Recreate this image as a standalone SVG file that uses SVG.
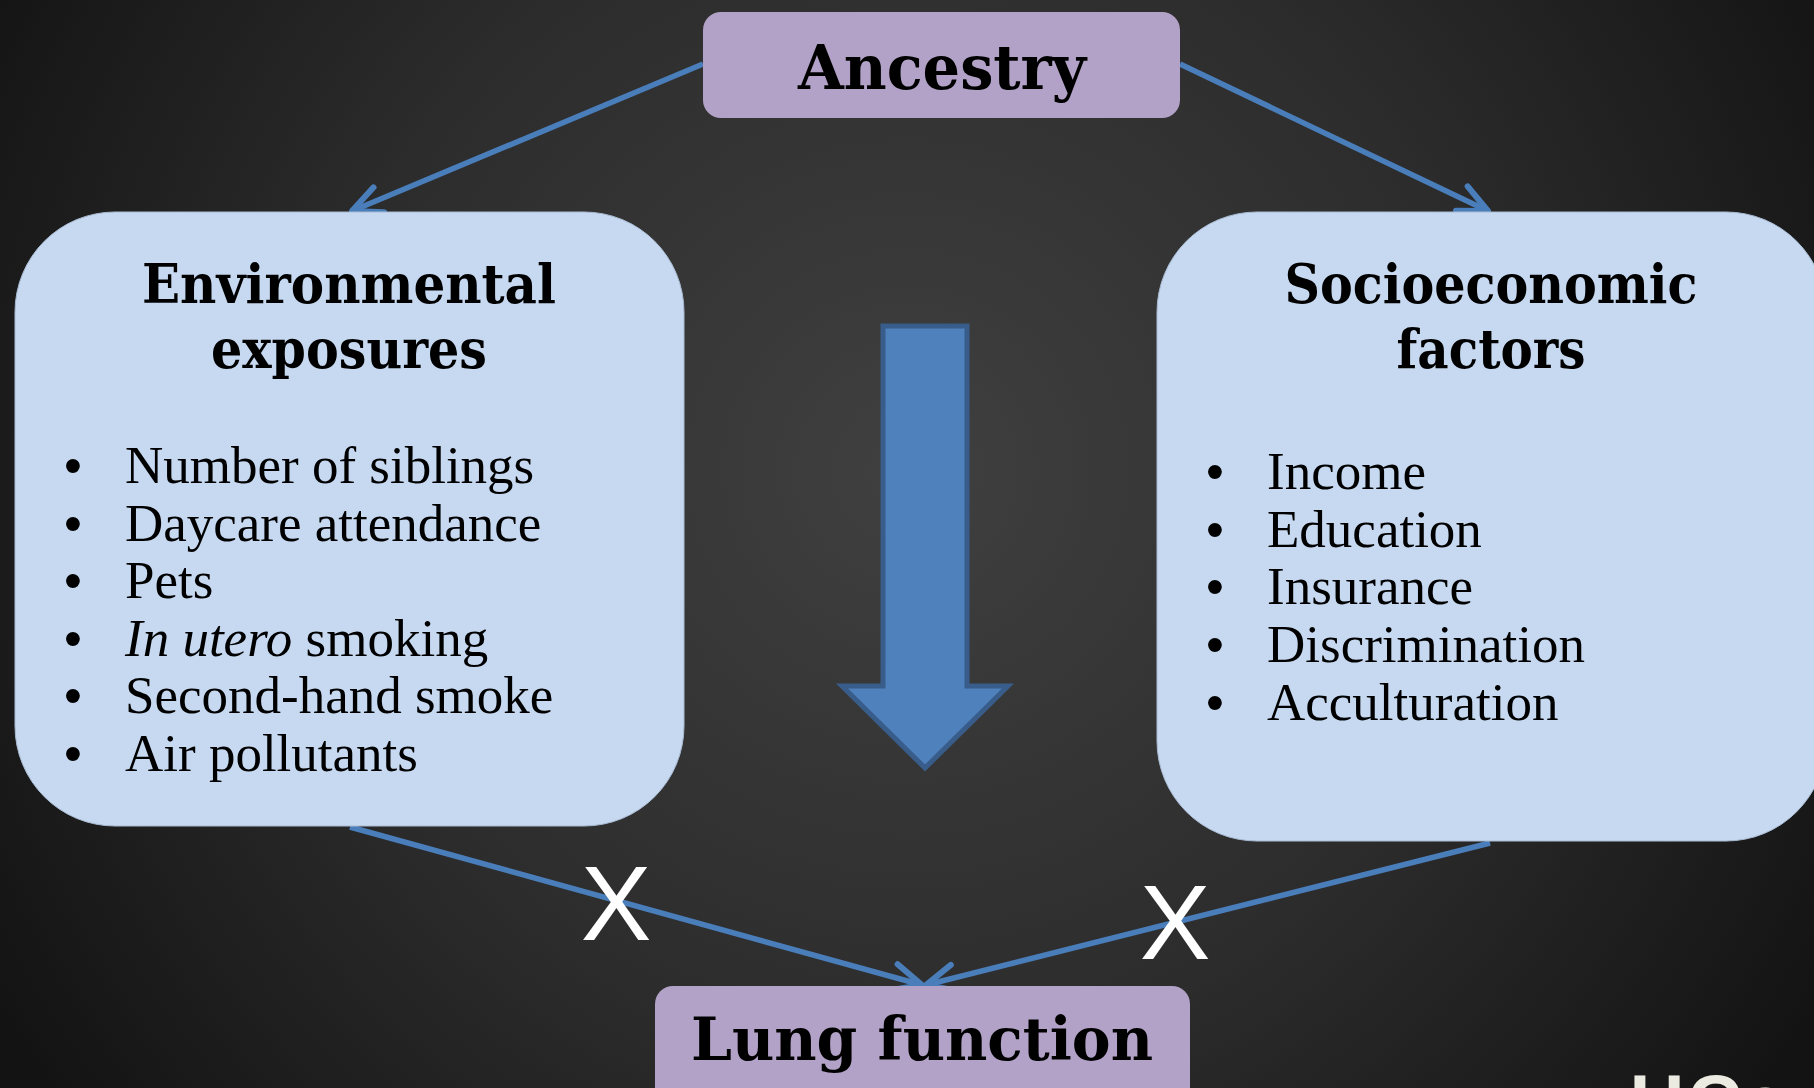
<svg xmlns="http://www.w3.org/2000/svg" width="1814" height="1088" viewBox="0 0 1814 1088">
<defs>
<radialGradient id="bg" gradientUnits="userSpaceOnUse" cx="907" cy="470" r="1060">
<stop offset="0" stop-color="#404040"/>
<stop offset="0.55" stop-color="#2c2c2c"/>
<stop offset="1" stop-color="#131313"/>
</radialGradient>
<marker id="ah" markerUnits="userSpaceOnUse" orient="auto" refX="0" refY="0" markerWidth="44" markerHeight="44" viewBox="-38 -22 44 44" overflow="visible">
<path d="M -29,-13.5 L 0,0 L -29,13.5" fill="none" stroke="#4a7ebb" stroke-width="6" stroke-linecap="round" stroke-linejoin="round"/>
</marker>
<style>
.purple{fill:#b3a2c7;}
.blue{fill:#c6d9f1;stroke:#a9bbd2;stroke-width:1;}
.head{font-family:"DejaVu Serif",serif;font-weight:bold;fill:#000;text-anchor:middle;}
.body{font-family:"Liberation Serif",serif;font-size:53px;fill:#000;}
.bul{font-family:"Liberation Sans",sans-serif;font-size:51px;fill:#000;text-anchor:middle;}
.conn{stroke:#4a7ebb;stroke-width:5.5;fill:none;marker-end:url(#ah);}
.x{font-family:"Liberation Sans",sans-serif;font-size:106px;fill:#ffffff;text-anchor:middle;}
</style>
</defs>
<rect x="0" y="0" width="1814" height="1088" fill="url(#bg)"/>

<g id="connectors">
<line class="conn" x1="703" y1="64" x2="352" y2="211"/>
<line class="conn" x1="1180" y1="64" x2="1488" y2="211"/>
<line class="conn" x1="350" y1="827" x2="922" y2="985"/>
<line class="conn" x1="1490" y1="843" x2="926" y2="985"/>
</g>

<g id="big-arrow">
<polygon points="883,326 967,326 967,686 1008,686 925,768 842,686 883,686" fill="#4f81bd" stroke="#385d8a" stroke-width="5" stroke-linejoin="miter"/>
</g>

<g id="ancestry">
<rect class="purple" x="703" y="12" width="477" height="106" rx="18"/>
<text class="head" x="942" y="89" font-size="62" textLength="288" lengthAdjust="spacingAndGlyphs">Ancestry</text>
</g>

<g id="environmental">
<rect class="blue" x="15" y="212" width="669" height="614" rx="100"/>
<text class="head" x="349" y="303" font-size="54" textLength="414" lengthAdjust="spacingAndGlyphs">Environmental</text>
<text class="head" x="349" y="368" font-size="54" textLength="276" lengthAdjust="spacingAndGlyphs">exposures</text>
<text class="bul" x="73" y="483">•</text>
<text class="bul" x="73" y="541">•</text>
<text class="bul" x="73" y="598">•</text>
<text class="bul" x="73" y="656">•</text>
<text class="bul" x="73" y="713">•</text>
<text class="bul" x="73" y="771">•</text>
<text class="body" x="125" y="483">Number of siblings</text>
<text class="body" x="125" y="541">Daycare attendance</text>
<text class="body" x="125" y="598">Pets</text>
<text class="body" x="125" y="656"><tspan font-style="italic">In utero</tspan> smoking</text>
<text class="body" x="125" y="713">Second-hand smoke</text>
<text class="body" x="125" y="771">Air pollutants</text>
</g>

<g id="socioeconomic">
<rect class="blue" x="1157" y="212" width="669" height="629" rx="100"/>
<text class="head" x="1491" y="303" font-size="54" textLength="413" lengthAdjust="spacingAndGlyphs">Socioeconomic</text>
<text class="head" x="1491" y="368" font-size="54" textLength="189" lengthAdjust="spacingAndGlyphs">factors</text>
<text class="bul" x="1215" y="489">•</text>
<text class="bul" x="1215" y="547">•</text>
<text class="bul" x="1215" y="604">•</text>
<text class="bul" x="1215" y="662">•</text>
<text class="bul" x="1215" y="720">•</text>
<text class="body" x="1267" y="489">Income</text>
<text class="body" x="1267" y="547">Education</text>
<text class="body" x="1267" y="604">Insurance</text>
<text class="body" x="1267" y="662">Discrimination</text>
<text class="body" x="1267" y="720">Acculturation</text>
</g>

<g id="lung-function">
<rect class="purple" x="655" y="986" width="535" height="130" rx="18"/>
<text class="head" x="922" y="1060" font-size="59" textLength="462" lengthAdjust="spacingAndGlyphs">Lung function</text>
</g>

<g id="x-marks">
<text class="x" x="616" y="940">X</text>
<text class="x" x="1175" y="959">X</text>
</g>

<text x="1630" y="1127" font-family="Liberation Sans, sans-serif" font-weight="bold" font-size="75" fill="#ecebe1" letter-spacing="3">UCs</text>
</svg>
